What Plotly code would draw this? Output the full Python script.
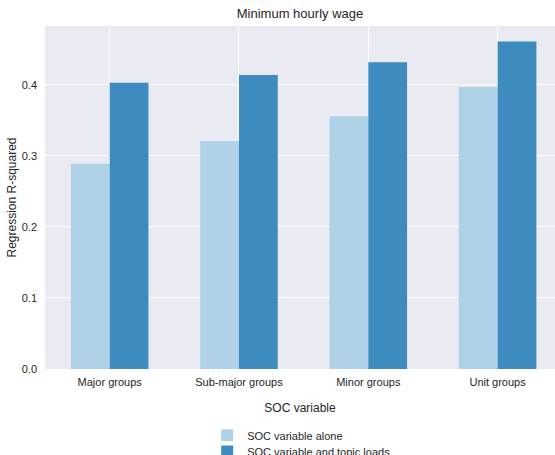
import plotly.graph_objects as go

# Regression R-squared by SOC grouping level
categories = ["Major groups", "Sub-major groups", "Minor groups", "Unit groups"]
soc_alone = [0.289, 0.321, 0.356, 0.397]
soc_with_topics = [0.403, 0.414, 0.432, 0.461]
series_names = ["SOC variable alone", "SOC variable and topic loads"]
y_ticks = [0.0, 0.1, 0.2, 0.3, 0.4]

light_blue = "#afd2e6"
dark_blue = "#3d8bbf"
font_family = "Liberation Sans, Arial, sans-serif"
text_color = "#262626"

fig = go.Figure()
fig.add_trace(go.Bar(x=categories, y=soc_alone, name=series_names[0], legend="legend",
                     marker=dict(color=light_blue, line=dict(width=0))))
fig.add_trace(go.Bar(x=categories, y=soc_with_topics, name=series_names[1], legend="legend2",
                     marker=dict(color=dark_blue, line=dict(width=0))))

legend_style = dict(x=0.318, xanchor="left", yanchor="top", orientation="v",
                    bgcolor="rgba(0,0,0,0)", font=dict(size=11, color=text_color))

fig.update_layout(
    width=555, height=455,
    margin=dict(l=45, r=0, t=26, b=86, autoexpand=False),
    barmode="group", bargap=0.4, bargroupgap=0,
    plot_bgcolor="#eaeaf2", paper_bgcolor="white",
    font=dict(family=font_family, size=11, color=text_color),
    title=dict(text="Minimum hourly wage", x=300 / 555, xanchor="center",
               y=1 - 13 / 455, yanchor="middle",
               font=dict(size=13, color=text_color)),
    showlegend=True,
    legend=dict(y=-0.151, **legend_style),
    legend2=dict(y=-0.198, **legend_style),
)
fig.update_xaxes(
    range=[-0.5, 3.444], showgrid=True, gridcolor="white", gridwidth=1,
    zeroline=False, showline=False, ticks="", ticklabelstandoff=5,
    title=dict(text="SOC variable", font=dict(size=12, color=text_color), standoff=16),
    tickfont=dict(size=11, color=text_color),
)
fig.update_yaxes(
    range=[0, 0.483], tickvals=y_ticks, tickformat=".1f",
    showgrid=True, gridcolor="white", gridwidth=1.2,
    zeroline=False, showline=False, ticks="", ticklabelstandoff=7,
    title=dict(text="Regression R-squared", font=dict(size=12, color=text_color), standoff=2),
    tickfont=dict(size=11, color=text_color),
)

fig.write_html("out.html")
